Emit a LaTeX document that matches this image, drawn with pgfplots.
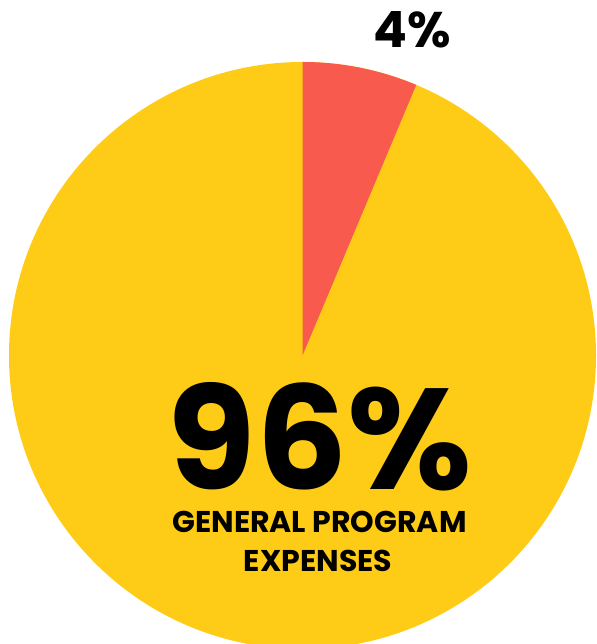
\documentclass[border=0pt]{standalone}
\usepackage{pgfplots}
\pgfplotsset{compat=1.18}
\usepackage{fontspec}
\setmainfont{Poppins}[BoldFont={* Bold}]
\definecolor{pieyellow}{HTML}{FECC17}
\definecolor{piered}{HTML}{F85A4D}

% slice sizes as drawn (degrees, clockwise from 12 o'clock)
\def\redslice{22.8}
\def\cx{302.5}
\def\cy{288.5}
\def\rad{293.5}

\begin{document}
\begin{tikzpicture}
\begin{axis}[
    hide axis,
    scale only axis,
    width=357.6pt, height=386.4pt,
    xmin=0, xmax=596, ymin=0, ymax=644,
    clip=true,
    ]
    \fill[pieyellow] (axis cs:\cx,\cy) circle[radius=\rad];
    \fill[piered] (axis cs:\cx,\cy) -- (axis cs:\cx,\cy+\rad)
        arc[start angle=90, end angle=90-\redslice, radius=176.1pt] -- cycle;
    \node[anchor=base, inner sep=0pt, text depth=0pt, font=\bfseries\fontsize{30}{30}\selectfont] at (axis cs:412,596) {4\%};
    \node[anchor=base, inner sep=0pt, text depth=0pt, font=\bfseries\fontsize{86}{86}\selectfont] at (axis cs:320,154) {96\%};
    \node[anchor=base, inner sep=0pt, text depth=0pt, font=\bfseries\fontsize{18}{18}\selectfont] at (axis cs:319.5,111) {GENERAL PROGRAM};
    \node[anchor=base, inner sep=0pt, text depth=0pt, font=\bfseries\fontsize{18}{18}\selectfont] at (axis cs:318,72) {EXPENSES};
\end{axis}
\pgfresetboundingbox
\path (current axis.south west) rectangle (current axis.north east);
\end{tikzpicture}
\end{document}
